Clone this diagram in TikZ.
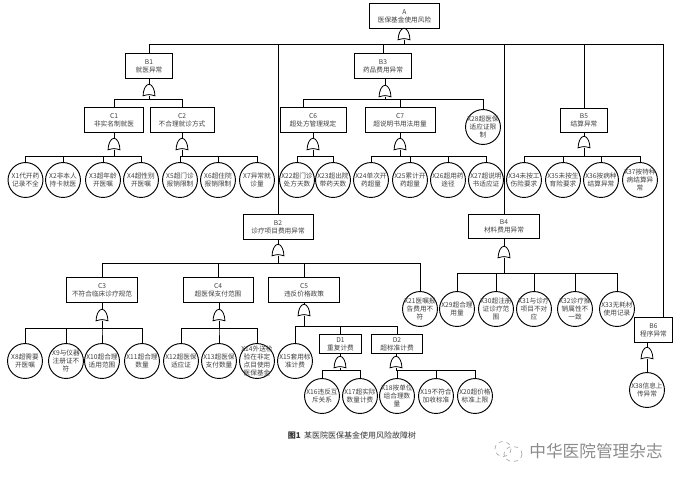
\documentclass[tikz,border=0pt]{standalone}
\usepackage{fontspec}
\setmainfont{Noto Sans CJK SC}

\begin{document}
\begin{tikzpicture}[
    x=0.75pt,y=-0.75pt,
    draw=black,
    line width=0.7pt,
    %
    event/.style={draw=black, rectangle, minimum height=18.5pt, inner sep=0pt, align=center,
                  font=\fontsize{5}{6}\selectfont, text=black!75},
    leaf/.style={draw=black, circle, minimum size=26.2pt, inner sep=-4pt, align=center,
                 font=\fontsize{5}{6.2}\selectfont, text=black!75},
    orgate/.style={rectangle, minimum width=8.2pt, minimum height=8pt, inner sep=0pt},
    %
    wire/.style={draw=black}
    ]
    \useasboundingbox (0,0) rectangle (685,480);

    % top of the tree
    \node[event,minimum width=52.5pt]  (A)  at (404.5,16)  {A\\医保基金使用风险};
    \node[event,minimum width=35pt]    (B1) at (149,66)    {B1\\就医异常};
    \node[event,minimum width=52.5pt]  (B2) at (278,227)   {B2\\诊疗项目费用异常};
    \node[event,minimum width=42.5pt]  (B3) at (383,66)    {B3\\药品费用异常};
    \node[event,minimum width=53.5pt]  (B4) at (504,226.5) {B4\\材料费用异常};
    \node[event,minimum width=35pt]    (B5) at (584,120.5) {B5\\结算异常};
    \node[event,minimum width=28pt]    (B6) at (653.5,330) {B6\\程序异常};
    %
    \node[event,minimum width=44pt]    (C1) at (114,120)   {C1\\非实名制就医};
    \node[event,minimum width=48pt]    (C2) at (182,120)   {C2\\不合理就诊方式};
    \node[event,minimum width=53pt]    (C3) at (102,290)   {C3\\不符合临床诊疗规范};
    \node[event,minimum width=52.5pt]  (C4) at (218,290)   {C4\\超医保支付范围};
    \node[event,minimum width=53pt]    (C5) at (304,290)   {C5\\违反价格政策};
    \node[event,minimum width=49.5pt]  (C6) at (313,120)   {C6\\超处方管理规定};
    \node[event,minimum width=52.5pt]  (C7) at (400,120)   {C7\\超说明书用法用量};
    %
    \node[event,minimum width=32pt,minimum height=14pt] (D1) at (340.5,344) {D1\\重复计费};
    \node[event,minimum width=38.5pt,minimum height=14pt] (D2) at (397,344) {D2\\超标准计费};

    % basic events
    \node[leaf] (X1)  at (25.5,180) {X1代开药\\记录不全};
    \node[leaf] (X2)  at (63,180)   {X2非本人\\持卡就医};
    \node[leaf] (X3)  at (103,180)  {X3超年龄\\开医嘱};
    \node[leaf] (X4)  at (141,180)  {X4超性别\\开医嘱};
    \node[leaf] (X5)  at (180,180)  {X5超门诊\\报销限制};
    \node[leaf] (X6)  at (218,180)  {X6超住院\\报销限制};
    \node[leaf] (X7)  at (257,180)  {X7异常就\\诊量};
    \node[leaf] (X8)  at (25,361)   {X8超需要\\开医嘱};
    \node[leaf] (X9)  at (66,361)   {X9与仪器\\注册证不\\符};
    \node[leaf] (X10) at (102,361)  {X10超合理\\适用范围};
    \node[leaf] (X11) at (142,361)  {X11超合理\\数量};
    \node[leaf] (X12) at (181,361)  {X12超医保\\适应证};
    \node[leaf] (X13) at (219,361)  {X13超医保\\支付数量};
    \node[leaf] (X14) at (257,361)  {X14外送检\\验在非定\\点目使用\\医保基金};
    \node[leaf] (X15) at (295,361)  {X15套用标\\准计费};
    \node[leaf] (X16) at (322,396)  {X16违反互\\斥关系};
    \node[leaf] (X17) at (360,396)  {X17超实际\\数量计费};
    \node[leaf] (X18) at (397,396)  {X18按单位\\组合理数\\量};
    \node[leaf] (X19) at (436,396)  {X19不符合\\加收标准};
    \node[leaf] (X20) at (475,396)  {X20超价格\\标准上限};
    \node[leaf] (X21) at (420,309)  {X21医嘱报\\告费用不\\符};
    \node[leaf] (X22) at (297,180)  {X22超门诊\\处方天数};
    \node[leaf] (X23) at (333,180)  {X23超出院\\带药天数};
    \node[leaf] (X24) at (371,180)  {X24单次开\\药超量};
    \node[leaf] (X25) at (410,180)  {X25累计开\\药超量};
    \node[leaf] (X26) at (448,180)  {X26超用药\\途径};
    \node[leaf] (X27) at (486,180)  {X27超说明\\书适应证};
    \node[leaf] (X28) at (483,127)  {X28超医保\\适应证限\\制};
    \node[leaf] (X29) at (457,309)  {X29超合理\\用量};
    \node[leaf] (X30) at (496,309)  {X30超注册\\证诊疗范\\围};
    \node[leaf] (X31) at (534,309)  {X31与诊疗\\项目不对\\应};
    \node[leaf] (X32) at (575,309)  {X32诊疗推\\销属性不\\一致};
    \node[leaf] (X33) at (617,309)  {X33无耗材\\使用记录};
    \node[leaf] (X34) at (524,180)  {X34未按工\\伤险要求};
    \node[leaf] (X35) at (563,180)  {X35未按生\\育险要求};
    \node[leaf] (X36) at (601,180)  {X36按病种\\结算异常};
    \node[leaf] (X37) at (640,180)  {X37按特种\\病结算异\\常};
    \node[leaf] (X38) at (647,390)  {X38信息上\\传异常};

    % or gates
    \foreach \g/\gx/\gy in {gA/404/34,gB1/149/90,gB2/278/250,gB3/385/91,gB4/504/252,gB5/584/142,
        gB6/647/353,gC1/114/144,gC2/182/144,gC3/102/315,gC4/219/315,gC5/304/310,gC6/313/144,
        gC7/400/144,gD1/340/362,gD2/396/362}
    {
        \node[orgate] (\g) at (\gx,\gy) {};
        \draw[line width=0.6pt] (\g.south west) .. controls ([yshift=4pt]\g.south west) and ([xshift=-2.6pt]\g.north) .. (\g.north)
              .. controls ([xshift=2.6pt]\g.north) and ([yshift=4pt]\g.south east) .. (\g.south east)
              .. controls ([yshift=1.2pt]\g.south) .. cycle;
    }

    % bus levels
    \coordinate (busA)  at (404,44);
    \coordinate (busB1) at (149,99);
    \coordinate (busB2) at (278,263);
    \coordinate (busB3) at (385,99);
    \coordinate (busB4) at (504,273);
    \coordinate (busB5) at (584,156);
    \coordinate (busC1) at (114,156);
    \coordinate (busC2) at (182,156);
    \coordinate (busC3) at (102,328);
    \coordinate (busC4) at (219,328);
    \coordinate (busC5) at (304,326);
    \coordinate (busC6) at (313,156);
    \coordinate (busC7) at (400,156);
    \coordinate (busD1) at (340,370);
    \coordinate (busD2) at (396,370);

    % parent to gate
    \foreach \top in {A,B1,B2,B3,B4,B5,B6,C1,C2,C3,C4,C5,C6,C7,D1,D2}
        \draw[wire] (\top.south -| g\top.north) -- (g\top.north);
    %
    \foreach \gate/\kids in {A/{B1,B2,B3,B4,B5},B1/{C1,C2},B2/{C3,C4,C5,X21},B3/{C7,X28},
        B4/{X29,X30,X31,X32,X33},B5/{X34,X35,X36,X37},C1/{X1,X2,X3,X4},C2/{X5,X6,X7},
        C3/{X8,X9,X10,X11},C4/{X12,X13,X14},C5/{X15,D1,D2},C6/{X22,X23},
        C7/{X24,X25,X26,X27},D1/{X16,X17},D2/{X18,X19,X20}}
        \foreach \kid in \kids
            \draw[wire] (g\gate.south) -- (bus\gate) -| (\kid.north);
    %
    \draw[wire] (gA.south) -- (busA) -| ([xshift=7.1pt]B6.north);
    \draw[wire] (gB3.south) -- (busB3) -| ([xshift=-7.5pt]C6.north);
    \draw[wire] (gB6.south) -- (X38.north -| gB6.south);

    % caption and mark
    \node[font=\fontsize{6}{7}\selectfont, text=black!80] (cap) at (352,435) {\textbf{图1}\ \ 某医院医保基金使用风险故障树};
    \node[font=\fontsize{12.5}{14}\selectfont, text=black!45] (mark) at (596,451) {中华医院管理杂志};
    \draw[black!35,line width=0.5pt,dashed] (503,449) circle [x radius=8,y radius=7.5];
    \draw[black!35,line width=0.5pt,dashed] (513,454) circle [x radius=9,y radius=7.5];

\end{tikzpicture}
\end{document}
